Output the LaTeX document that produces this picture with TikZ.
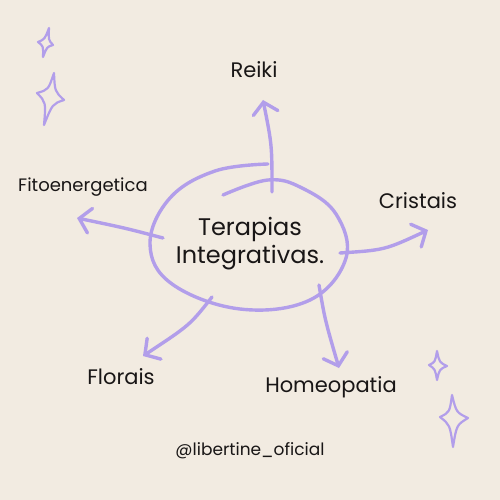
\documentclass[tikz,border=0pt]{standalone}
\usepackage{fontspec}
\setmainfont{Poppins}
\usetikzlibrary{arrows.meta,calc}
\definecolor{paper}{RGB}{242,235,225}
\definecolor{lilac}{RGB}{178,158,234}
\definecolor{ink}{RGB}{25,22,22}
\tikzset{
  pen/.style={draw=lilac,line width=3.4pt,line cap=round,line join=round},
  branch/.style={pen,-{Straight Barb[length=11pt,width=25pt,line cap=round]}},
  label/.style={text=ink,inner sep=0pt,font=\fontsize{21}{24}\selectfont},
  spark/.style={draw=lilac,line width=2.2pt,line join=round}
}
% #1 centre, #2 top, #3 right, #4 bottom, #5 left
\newcommand{\sparkle}[5]{%
  \draw[spark] (#2) .. controls ($(#1)!.24!(#2)+(#1)!.24!(#3)-(#1)$) .. (#3)
    .. controls ($(#1)!.24!(#3)+(#1)!.24!(#4)-(#1)$) .. (#4)
    .. controls ($(#1)!.24!(#4)+(#1)!.24!(#5)-(#1)$) .. (#5)
    .. controls ($(#1)!.24!(#5)+(#1)!.24!(#2)-(#1)$) .. cycle;}
\begin{document}
\begin{tikzpicture}[x=1pt,y=-1pt]
\fill[paper] (0,0) rectangle (500,500);
\useasboundingbox (0,0) rectangle (500,500);

% centre
\node[text=ink,align=center,font=\fontsize{24}{28}\selectfont] (core) at (250,244) {Terapias\\Integrativas.};
\draw[pen] plot[smooth,tension=0.65] coordinates {(268,164) (215,171) (170,198) (150,244) (172,284) (240,309) (310,300) (346,258) (336,214) (302,188) (268,180) (223,195)};

% labels
\node[label] (reiki) at (254,70) {Reiki};
\node[label,font=\fontsize{18}{21}\selectfont] (fito) at (83,187) {Fitoenergetica};
\node[label] (crist) at (418,201) {Cristais};
\node[label] (flor) at (121,377) {Florais};
\node[label] (homeo) at (331,387) {Homeopatia};
\node[label,font=\fontsize{17}{20}\selectfont] (tag) at (250,451) {@libertine\_oficial};

% branch ends
\coordinate (r0) at (272,192); \coordinate (r1) at (263,100);
\coordinate (f0) at (163,238); \coordinate (f1) at (77,218);
\coordinate (c0) at (340,253); \coordinate (c1) at (428,230);
\coordinate (l0) at (212,297); \coordinate (l1) at (143,356);
\coordinate (h0) at (319,285); \coordinate (h1) at (339,368);

\draw[branch] (r0) .. controls (272,145) .. (r1);
\draw[branch] (f0) .. controls (125,228) .. (f1);
\draw[branch] (c0) .. controls (385,250) .. (c1);
\draw[branch] (l0) .. controls (190,325) .. (l1);
\draw[branch] (h0) .. controls (325,320) .. (h1);

% sparkles
\sparkle{46,43}{49,28}{53,45}{43,57}{38,42}
\sparkle{51,96}{54,73}{64,100}{44,125}{37,93}
\sparkle{437,366}{437,351}{447,366}{437,380}{429,365}
\sparkle{453,418}{452,395}{468,418}{453,447}{440,417}
\end{tikzpicture}
\end{document}
